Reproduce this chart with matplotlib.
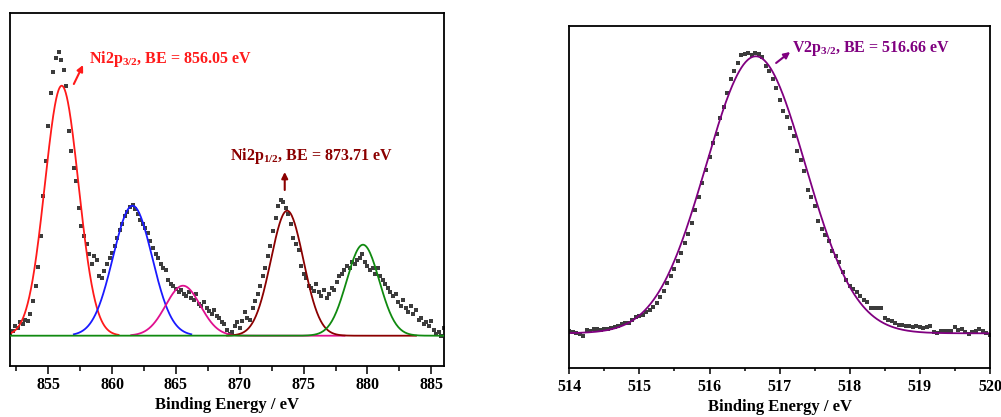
import numpy as np
import matplotlib
matplotlib.use("Agg")
import matplotlib.pyplot as plt
from matplotlib.ticker import MultipleLocator

plt.rcParams['font.family'] = 'Liberation Serif'
plt.rcParams['font.weight'] = 'bold'
plt.rcParams['mathtext.fontset'] = 'custom'
plt.rcParams['mathtext.rm'] = 'Liberation Serif:bold'
plt.rcParams['mathtext.it'] = 'Liberation Serif:bold'
plt.rcParams['mathtext.bf'] = 'Liberation Serif:bold'

# ---- Ni 2p spectrum (0.2 eV steps, 852.0 ... 886.0) ----
ni_start, ni_stop, ni_step = 852.0, 886.0, 0.2
ni_counts = [
    2, 5, 10, 8, 14,          # 852
    12, 16, 15, 22, 35,       # 853
    50, 69, 100, 140, 175,    # 854
    210, 243, 264, 278, 284,  # 855
    276, 266, 250, 205, 185,  # 856
    168, 155, 128, 110, 100,  # 857
    92, 82, 72, 80, 76,       # 858
    60, 58, 65, 72, 78,       # 859
    83, 90, 98, 106, 112,     # 860
    120, 124, 129, 131, 127,  # 861
    122, 116, 112, 108, 103,  # 862
    95, 88, 82, 78, 72,       # 863
    68, 66, 56, 52, 50,       # 864
    47, 44, 46, 42, 40,       # 865
    44, 38, 36, 42, 32,       # 866
    30, 34, 28, 25, 22,       # 867
    26, 20, 18, 14, 12,       # 868
    6, 2, 4, 10, 14,          # 869
    8, 15, 24, 18, 16,        # 870
    28, 35, 42, 50, 60,       # 871
    68, 80, 90, 105, 118,     # 872
    130, 136, 134, 128, 122,  # 873
    112, 98, 92, 86, 70,      # 874
    62, 58, 50, 48, 45,       # 875
    52, 44, 40, 46, 38,       # 876
    42, 48, 46, 54, 60,       # 877
    62, 66, 70, 68, 74,       # 878
    72, 76, 78, 82, 74,       # 879
    70, 66, 68, 62, 68,       # 880
    60, 56, 52, 48, 44,       # 881
    40, 42, 34, 30, 36,       # 882
    28, 24, 30, 22, 26,       # 883
    16, 18, 12, 14, 10,       # 884
    15, 6, 2, 4, 0,           # 885
    8,                        # 886
]

# fitted components: centre (eV), height, FWHM (eV), drawn range, colour
ni_centres = [856.05, 861.60, 865.55, 873.71, 879.65]
ni_heights = [250, 130, 50, 125, 91]
ni_fwhm = [3.1, 3.6, 3.2, 3.0, 3.0]
ni_ranges = [(852.0, 860.5), (857.0, 866.2), (861.5, 878.2), (869.0, 883.8), (852.0, 886.0)]
ni_colors = ['#ff1a1a', '#1a1aff', '#e0108f', '#8b0000', '#108a10']
ni_order = [0, 1, 3, 2, 4]

# ---- V 2p spectrum (0.05 eV steps, 514.00 ... 520.00) ----
v_start, v_stop, v_step = 514.0, 520.0, 0.05
v_counts = [
    2, 1, 0, -1, -3, 3, 2, 4, 4, 3,                 # 514.0
    4, 4, 5, 6, 7, 9, 10, 10, 13, 16,               # 514.5
    17, 18, 21, 23, 26, 30, 36, 42, 50, 57,         # 515.0
    64, 72, 80, 90, 99, 110, 123, 136, 150, 163,    # 515.5
    176, 190, 199, 215, 226, 240, 254, 262, 270, 278,   # 516.0
    279, 280, 278, 280, 279, 276, 267, 262, 254, 245,   # 516.5
    233, 222, 216, 205, 197, 182, 173, 162, 143, 136,   # 517.0
    127, 112, 104, 98, 92, 82, 77, 71, 61, 53,      # 517.5
    47, 44, 41, 37, 33, 31, 25, 25, 25, 25,         # 518.0
    15, 13, 12, 10, 8, 8, 7, 7, 6, 7,               # 518.5
    6, 5, 6, 7, 1, 0, 2, 2, 2, 2,                   # 519.0
    6, 3, 4, 1, -1, 1, 2, 4, 2, 0,                  # 519.5
    -2,                                             # 520.0
]
v_centre, v_height, v_fwhm = 516.66, 277, 1.67

ni_x = np.round(np.arange(len(ni_counts)) * ni_step + ni_start, 2)
v_x = np.round(np.arange(len(v_counts)) * v_step + v_start, 2)


def peak(x, c, h, fwhm):
    s = fwhm / 2.3548
    return h * np.exp(-0.5 * ((x - c) / s) ** 2)


def style_axis(ax, major_len, minor_len, pad):
    for sp in ax.spines.values():
        sp.set_linewidth(1.3)
        sp.set_color('black')
    ax.set_yticks([])
    ax.tick_params(axis='x', which='major', direction='out', length=major_len, width=1.1,
                   labelsize=11.5, pad=pad)
    ax.tick_params(axis='x', which='minor', direction='out', length=minor_len, width=1.1)
    for lab in ax.get_xticklabels():
        lab.set_fontweight('bold')
    ax.set_xlabel('Binding Energy / eV', fontsize=12, fontweight='bold', labelpad=3)


fig = plt.figure(figsize=(10.01, 4.17), dpi=100)

# left: Ni 2p
ax1 = fig.add_axes([0.010, 0.1223, 0.4336, 0.8465])
ax1.plot(ni_x, ni_counts, 's', color='#3c3c3c', ms=2.9, mew=0, zorder=1)
for i in ni_order:
    lo, hi = ni_ranges[i]
    xx = np.linspace(lo, hi, 400)
    ax1.plot(xx, peak(xx, ni_centres[i], ni_heights[i], ni_fwhm[i]),
             color=ni_colors[i], lw=1.3, zorder=2 + i)
ax1.set_xlim(852, 886)
ax1.set_ylim(-30.3, 322.7)
ax1.xaxis.set_major_locator(MultipleLocator(5))
ax1.xaxis.set_minor_locator(MultipleLocator(2.5))
style_axis(ax1, 6, 3.8, 2)

ax1.annotate('', xy=(857.72, 270.7), xytext=(857.0, 251.7),
             arrowprops=dict(arrowstyle='-|>', color='#ff1a1a', lw=1.5,
                             mutation_scale=9, shrinkA=0, shrinkB=0))
ax1.text(858.18, 272.7, 'Ni2p$_{3/2}$, BE = 856.05 eV', color='#ff1a1a',
         fontsize=11.5, fontweight='bold', va='baseline', ha='left')
ax1.annotate('', xy=(873.52, 163.7), xytext=(873.52, 145.7),
             arrowprops=dict(arrowstyle='-|>', color='#8b0000', lw=1.5,
                             mutation_scale=9, shrinkA=0, shrinkB=0))
ax1.text(869.2, 175.7, 'Ni2p$_{1/2}$, BE = 873.71 eV', color='#8b0000',
         fontsize=11.5, fontweight='bold', va='baseline', ha='left')

# right: V 2p
ax2 = fig.add_axes([0.5687, 0.1182, 0.4203, 0.8202])
ax2.plot(v_x, v_counts, 's', color='#3c3c3c', ms=2.9, mew=0, zorder=1)
vv = np.linspace(514, 520, 600)
ax2.plot(vv, peak(vv, v_centre, v_height, v_fwhm), color='#800080', lw=1.3, zorder=2)
ax2.set_xlim(514, 520)
ax2.set_ylim(-34.4, 307.6)
ax2.xaxis.set_major_locator(MultipleLocator(1))
ax2.xaxis.set_minor_locator(MultipleLocator(0.5))
style_axis(ax2, 4, 2.2, 4)

ax2.annotate('', xy=(517.15, 281.3), xytext=(516.95, 270.3),
             arrowprops=dict(arrowstyle='-|>', color='#800080', lw=1.5,
                             mutation_scale=9, shrinkA=0, shrinkB=0))
ax2.text(517.17, 281.3, 'V2p$_{3/2}$, BE = 516.66 eV', color='#800080',
         fontsize=11.5, fontweight='bold', va='baseline', ha='left')

fig.savefig('out.png', dpi=100)
